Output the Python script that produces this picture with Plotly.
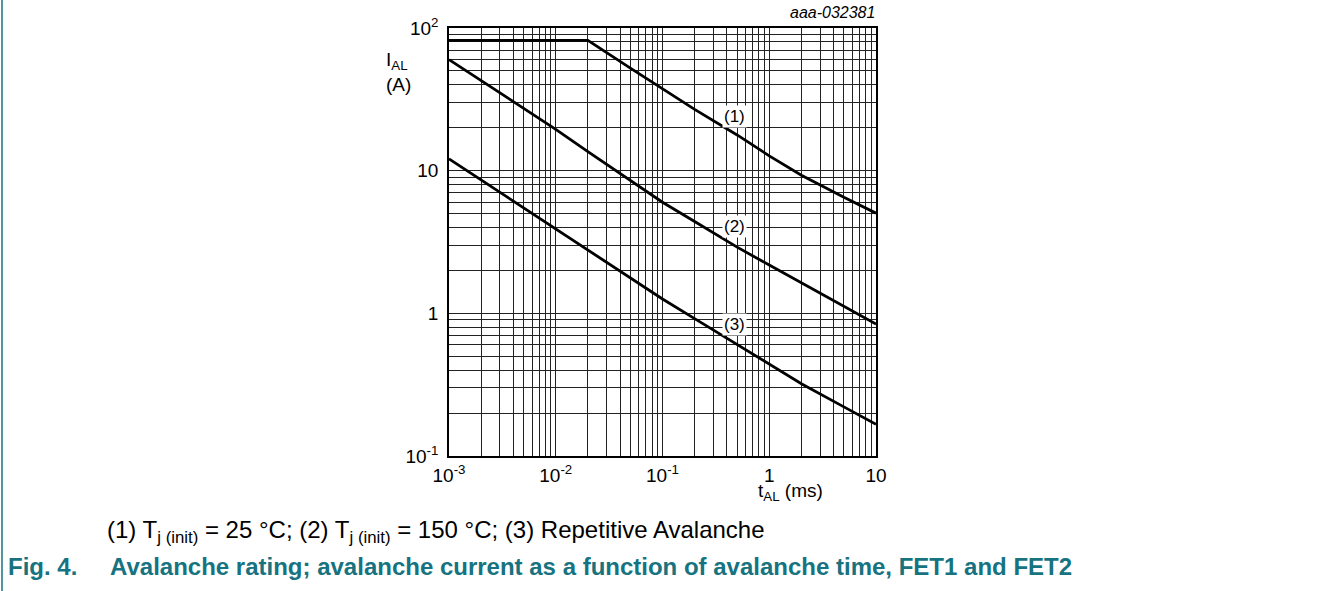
import numpy as np
import plotly.graph_objects as go

# ---------------- data ----------------
t_ms = [0.001, 0.002, 0.005, 0.01, 0.02, 0.05, 0.1, 0.2, 0.5, 1, 2, 5, 10]
i_curve1 = [82, 82, 82, 82, 82, 52.3, 37.3, 26.9, 17.8, 12.7, 9.3, 6.5, 5.04]
i_curve2 = [60, 42.8, 27.4, 19.5, 13.6, 8.49, 6.01, 4.40, 2.91, 2.18, 1.63, 1.11, 0.84]
i_curve3 = [12.1, 8.59, 5.46, 3.88, 2.77, 1.76, 1.26, 0.918, 0.604, 0.44, 0.321, 0.221, 0.167]

curve_labels = ["(1)", "(2)", "(3)"]
label_t = [0.476, 0.476, 0.476]
label_i = [24.0, 4.06, 0.84]

x_decades = [-3, -2, -1, 0, 1]
y_decades = [-1, 0, 1, 2]
x_decade_text = ["10<sup>-3</sup>", "10<sup>-2</sup>", "10<sup>-1</sup>", "1", "10"]
y_decade_text = ["10<sup>-1</sup>", "1", "10", "10<sup>2</sup>"]

# ---------------- layout helpers ----------------
W, H = 1323, 591
L, R, T, B = 449, 447, 28, 135
PW, PH = W - L - R, H - T - B


def px_x(p):
    return (p - L) / PW


def px_y(p):
    return 1 - (p - T) / PH


def grid_ticks(decades, texts):
    vals, txt = [], []
    for k, d in enumerate(decades):
        for m in range(1, 10):
            if k == len(decades) - 1 and m > 1:
                break
            vals.append(m * 10.0 ** d)
            txt.append(texts[k] if m == 1 else "")
    return vals, txt


xv, xt = grid_ticks(x_decades, x_decade_text)
yv, yt = grid_ticks(y_decades, y_decade_text)

FONT = "Liberation Sans, Arial, sans-serif"
TEAL = "#16737f"

fig = go.Figure()
for ys in (i_curve1, i_curve2, i_curve3):
    fig.add_trace(go.Scatter(x=t_ms, y=ys, mode="lines",
                             line=dict(color="black", width=2.8),
                             showlegend=False, hoverinfo="skip"))

annotations = []
for lab, lt, li in zip(curve_labels, label_t, label_i):
    annotations.append(dict(x=np.log10(lt), y=np.log10(li), xref="x", yref="y",
                            text=lab, showarrow=False, bgcolor="white", borderpad=1,
                            font=dict(size=17, color="black", family=FONT)))

annotations += [
    dict(x=px_x(877), y=px_y(13), xref="paper", yref="paper", xanchor="right", yanchor="middle",
         text="<i>aaa-032381</i>", showarrow=False, font=dict(size=16, color="black", family=FONT)),
    dict(x=px_x(384), y=px_y(47), xref="paper", yref="paper", xanchor="left", yanchor="top",
         text="I<sub>AL</sub><br>(A)", align="left", showarrow=False,
         font=dict(size=19, color="black", family=FONT)),
    dict(x=px_x(756), y=px_y(492), xref="paper", yref="paper", xanchor="left", yanchor="middle",
         text="t<sub>AL</sub> (ms)", showarrow=False, font=dict(size=19, color="black", family=FONT)),
    dict(x=px_x(105), y=px_y(531), xref="paper", yref="paper", xanchor="left", yanchor="middle",
         text="(1) T<sub>j (init)</sub> = 25 °C; (2) T<sub>j (init)</sub> = 150 °C; (3) Repetitive Avalanche",
         showarrow=False, font=dict(size=24, color="black", family=FONT)),
    dict(x=px_x(6), y=px_y(566), xref="paper", yref="paper", xanchor="left", yanchor="middle",
         text="<b>Fig. 4.</b>", showarrow=False, font=dict(size=24, color=TEAL, family=FONT)),
    dict(x=px_x(108), y=px_y(566), xref="paper", yref="paper", xanchor="left", yanchor="middle",
         text="<b>Avalanche rating; avalanche current as a function of avalanche time, FET1 and FET2</b>",
         showarrow=False, font=dict(size=24, color=TEAL, family=FONT)),
]

fig.add_shape(type="line", xref="paper", yref="paper", x0=px_x(2), x1=px_x(2), y0=px_y(0), y1=px_y(H),
              line=dict(color=TEAL, width=1.5))

axis_common = dict(type="log", showgrid=True, gridcolor="#222222", gridwidth=1,
                   showline=True, linecolor="black", linewidth=1.5, mirror=True,
                   ticks="", zeroline=False, tickmode="array",
                   tickfont=dict(size=19, color="black", family=FONT))

fig.update_layout(
    width=W, height=H, margin=dict(l=L, r=R, t=T, b=B, autoexpand=False),
    paper_bgcolor="white", plot_bgcolor="white",
    xaxis=dict(range=[-3, 1], tickvals=xv, ticktext=xt, ticklabelstandoff=1, **axis_common),
    yaxis=dict(range=[-1, 2], tickvals=yv, ticktext=yt, ticklabelstandoff=5, **axis_common),
    annotations=annotations,
    font=dict(family=FONT),
)

fig.write_html("out.html", config={"displayModeBar": False},
               post_script="document.body.style.margin='0px';")
